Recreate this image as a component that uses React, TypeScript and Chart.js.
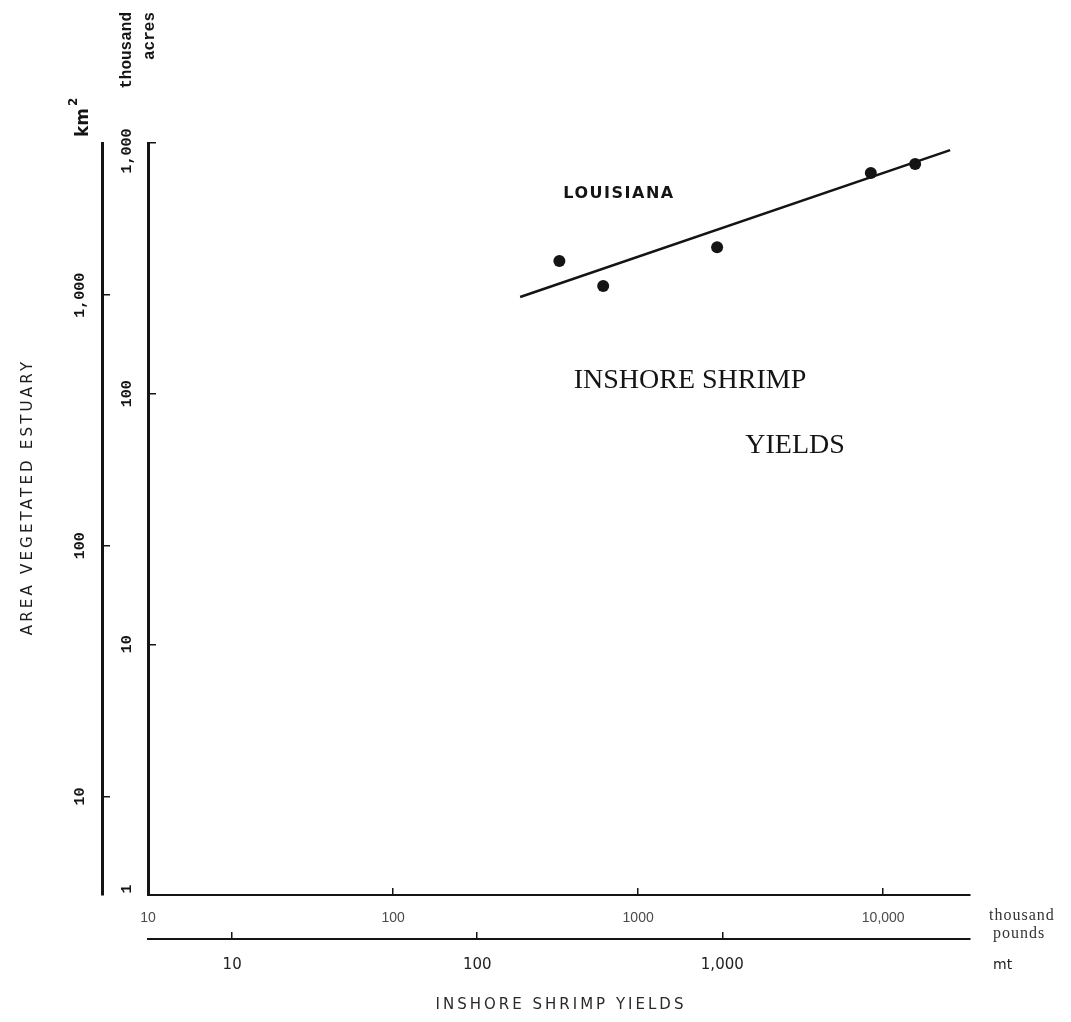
import { useEffect, useRef } from "react";
import { Chart, registerables } from "chart.js";

Chart.register(...registerables);

// Louisiana inshore shrimp yields (thousand pounds) vs vegetated estuary area (thousand acres)
const shrimpYieldThousandLb = [477, 720, 2100, 8900, 13500];
const vegAreaThousandAcres = [338, 269, 384, 759, 824];
// fitted regression line end points
const fitLineX = [330, 18750];
const fitLineY = [243, 937];

// tick values / labels
const xTickValues = [10, 100, 1000, 10000];
const xTickLabels = ["10", "100", "1000", "10,000"];
const mtTickValues = [10, 100, 1000];
const mtTickLabels = ["10", "100", "1,000"];
const acreTickValues = [1, 10, 100, 1000];
const acreTickLabels = ["1", "10", "100", "1,000"];
const kmTickValues = [10, 100, 1000];
const kmTickLabels = ["10", "100", "1,000"];

const X_MIN = 10;
const X_MAX = 22600;
const Y_MIN = 1;
const Y_MAX = 1000;
const LB_TO_MT = 0.45359; // thousand pounds -> metric tons
const ACRE_TO_KM2 = 4.04686; // thousand acres -> km²

const INK = "#141414";

const textPlugin = {
  id: "textDecor",
  afterDraw(chart: any) {
    const ctx: CanvasRenderingContext2D = chart.ctx;
    const yS = chart.scales.y;
    const y2S = chart.scales.y2;
    const rot = (text: string, x: number, y: number, font: string, align: CanvasTextAlign = "center", spacing = "0px", color = INK) => {
      ctx.save();
      ctx.translate(x, y);
      ctx.rotate(-Math.PI / 2);
      ctx.font = font;
      ctx.fillStyle = color;
      ctx.textAlign = align;
      ctx.textBaseline = "middle";
      (ctx as any).letterSpacing = spacing;
      ctx.fillText(text, 0, 0);
      ctx.restore();
    };
    const flat = (text: string, x: number, y: number, font: string, align: CanvasTextAlign = "center", spacing = "0px", color = INK) => {
      ctx.save();
      ctx.font = font;
      ctx.fillStyle = color;
      ctx.textAlign = align;
      ctx.textBaseline = "middle";
      (ctx as any).letterSpacing = spacing;
      ctx.fillText(text, x, y);
      ctx.restore();
    };

    // y tick labels (rotated)
    acreTickValues.forEach((v, i) => {
      const y = yS.getPixelForValue(v) + (v === Y_MAX ? 8 : v === Y_MIN ? -6 : 0);
      rot(acreTickLabels[i], 127, y, 'bold 15px "Liberation Mono"');
    });
    kmTickValues.forEach((v, i) => rot(kmTickLabels[i], 80, y2S.getPixelForValue(v), 'bold 15px "Liberation Mono"'));

    // unit labels at top of y axes
    rot("thousand", 127, 12, 'bold 16px "Liberation Mono"', "right");
    rot("acres", 150, 12, 'bold 16px "Liberation Mono"', "right");
    ctx.save();
    ctx.translate(84, 137);
    ctx.rotate(-Math.PI / 2);
    ctx.fillStyle = INK;
    ctx.textAlign = "left";
    ctx.textBaseline = "middle";
    ctx.font = 'bold 17px "DejaVu Sans"';
    ctx.fillText("km", 0, 0);
    const w = ctx.measureText("km").width;
    ctx.font = 'bold 12px "DejaVu Sans"';
    ctx.fillText("2", w + 2, -10);
    ctx.restore();

    // y axis title
    rot("AREA VEGETATED ESTUARY", 28, 497, '15px "DejaVu Sans"', "center", "3.2px", "#1e1e1e");

    // x unit labels
    flat("thousand", 989, 916, '16px "Liberation Serif"', "left", "1px", "#333");
    flat("pounds", 993, 934, '16px "Liberation Serif"', "left", "1px", "#333");
    flat("mt", 993, 965, '14px "DejaVu Sans"', "left", "0px", "#222");

    // x axis title
    flat("INSHORE SHRIMP YIELDS", 561, 1005, '15px "DejaVu Sans"', "center", "3px", "#2a2a2a");

    // in-plot annotations
    flat("LOUISIANA", 619, 194, 'bold 16px "DejaVu Sans"', "center", "1.5px", INK);
    flat("INSHORE SHRIMP", 690, 381, '28px "Liberation Serif"', "center", "0px", INK);
    flat("YIELDS", 795, 446, '28px "Liberation Serif"', "center", "0px", INK);
  },
};

export default function App() {
  const ref = useRef<HTMLCanvasElement | null>(null);

  useEffect(() => {
    document.body.style.margin = "0";
    const canvas = ref.current;
    if (!canvas) return;

    const points = shrimpYieldThousandLb.map((x, i) => ({ x, y: vegAreaThousandAcres[i] }));
    const fit = fitLineX.map((x, i) => ({ x, y: fitLineY[i] }));

    const labelFrom = (values: number[], labels: string[]) => (v: any) => {
      const i = values.findIndex((t) => Math.abs(t - Number(v)) < 1e-6 * t);
      return i >= 0 ? labels[i] : "";
    };

    const chart = new Chart(canvas, {
      type: "scatter",
      data: {
        datasets: [
          {
            label: "fit",
            data: fit,
            showLine: true,
            borderColor: INK,
            borderWidth: 2.5,
            pointRadius: 0,
            xAxisID: "x",
            yAxisID: "y",
          },
          {
            label: "Louisiana",
            data: points,
            pointRadius: 6,
            pointBackgroundColor: INK,
            pointBorderWidth: 0,
            xAxisID: "x",
            yAxisID: "y",
          },
        ],
      },
      options: {
        animation: false,
        responsive: true,
        maintainAspectRatio: false,
        layout: { padding: { top: 143, right: 101, bottom: 38, left: 0 } },
        plugins: { legend: { display: false }, tooltip: { enabled: false } },
        scales: {
          x: {
            type: "logarithmic",
            position: "bottom",
            weight: 0,
            min: X_MIN,
            max: X_MAX,
            afterBuildTicks: (s: any) => {
              s.ticks = xTickValues.map((v) => ({ value: v }));
            },
            afterFit: (s: any) => {
              s.height = 44;
            },
            grid: { display: true, drawOnChartArea: false, drawTicks: true, tickLength: -7, color: INK, lineWidth: 1.5 },
            border: { display: true, color: INK, width: 2 },
            ticks: {
              autoSkip: false,
              maxRotation: 0,
              minRotation: 0,
              padding: 22,
              color: "#4a4a4a",
              font: { family: '"Liberation Sans"', size: 14 },
              callback: labelFrom(xTickValues, xTickLabels),
            },
          },
          x2: {
            type: "logarithmic",
            position: "bottom",
            weight: 1,
            min: X_MIN * LB_TO_MT,
            max: X_MAX * LB_TO_MT,
            afterBuildTicks: (s: any) => {
              s.ticks = mtTickValues.map((v) => ({ value: v }));
            },
            afterFit: (s: any) => {
              s.height = 45;
            },
            grid: { display: true, drawOnChartArea: false, drawTicks: true, tickLength: -7, color: INK, lineWidth: 1.5 },
            border: { display: true, color: INK, width: 2 },
            ticks: {
              autoSkip: false,
              maxRotation: 0,
              minRotation: 0,
              padding: 24,
              color: "#222",
              font: { family: '"DejaVu Sans"', size: 15 },
              callback: labelFrom(mtTickValues, mtTickLabels),
            },
          },
          y: {
            type: "logarithmic",
            position: "left",
            weight: 0,
            min: Y_MIN,
            max: Y_MAX,
            afterBuildTicks: (s: any) => {
              s.ticks = acreTickValues.map((v) => ({ value: v }));
            },
            afterFit: (s: any) => {
              s.width = 46;
            },
            grid: { display: true, drawOnChartArea: false, drawTicks: true, tickLength: -8, color: INK, lineWidth: 1.5 },
            border: { display: true, color: INK, width: 3 },
            ticks: { display: false },
          },
          y2: {
            type: "logarithmic",
            position: "left",
            weight: 1,
            min: Y_MIN * ACRE_TO_KM2,
            max: Y_MAX * ACRE_TO_KM2,
            afterBuildTicks: (s: any) => {
              s.ticks = kmTickValues.map((v) => ({ value: v }));
            },
            afterFit: (s: any) => {
              s.width = 102;
            },
            grid: { display: true, drawOnChartArea: false, drawTicks: true, tickLength: -8, color: INK, lineWidth: 1.5 },
            border: { display: true, color: INK, width: 3 },
            ticks: { display: false },
          },
        },
      },
      plugins: [textPlugin],
    });

    return () => chart.destroy();
  }, []);

  return (
    <div style={{ width: "1071px", height: "1022px", position: "relative", background: "#fff" }}>
      <canvas ref={ref} />
    </div>
  );
}
